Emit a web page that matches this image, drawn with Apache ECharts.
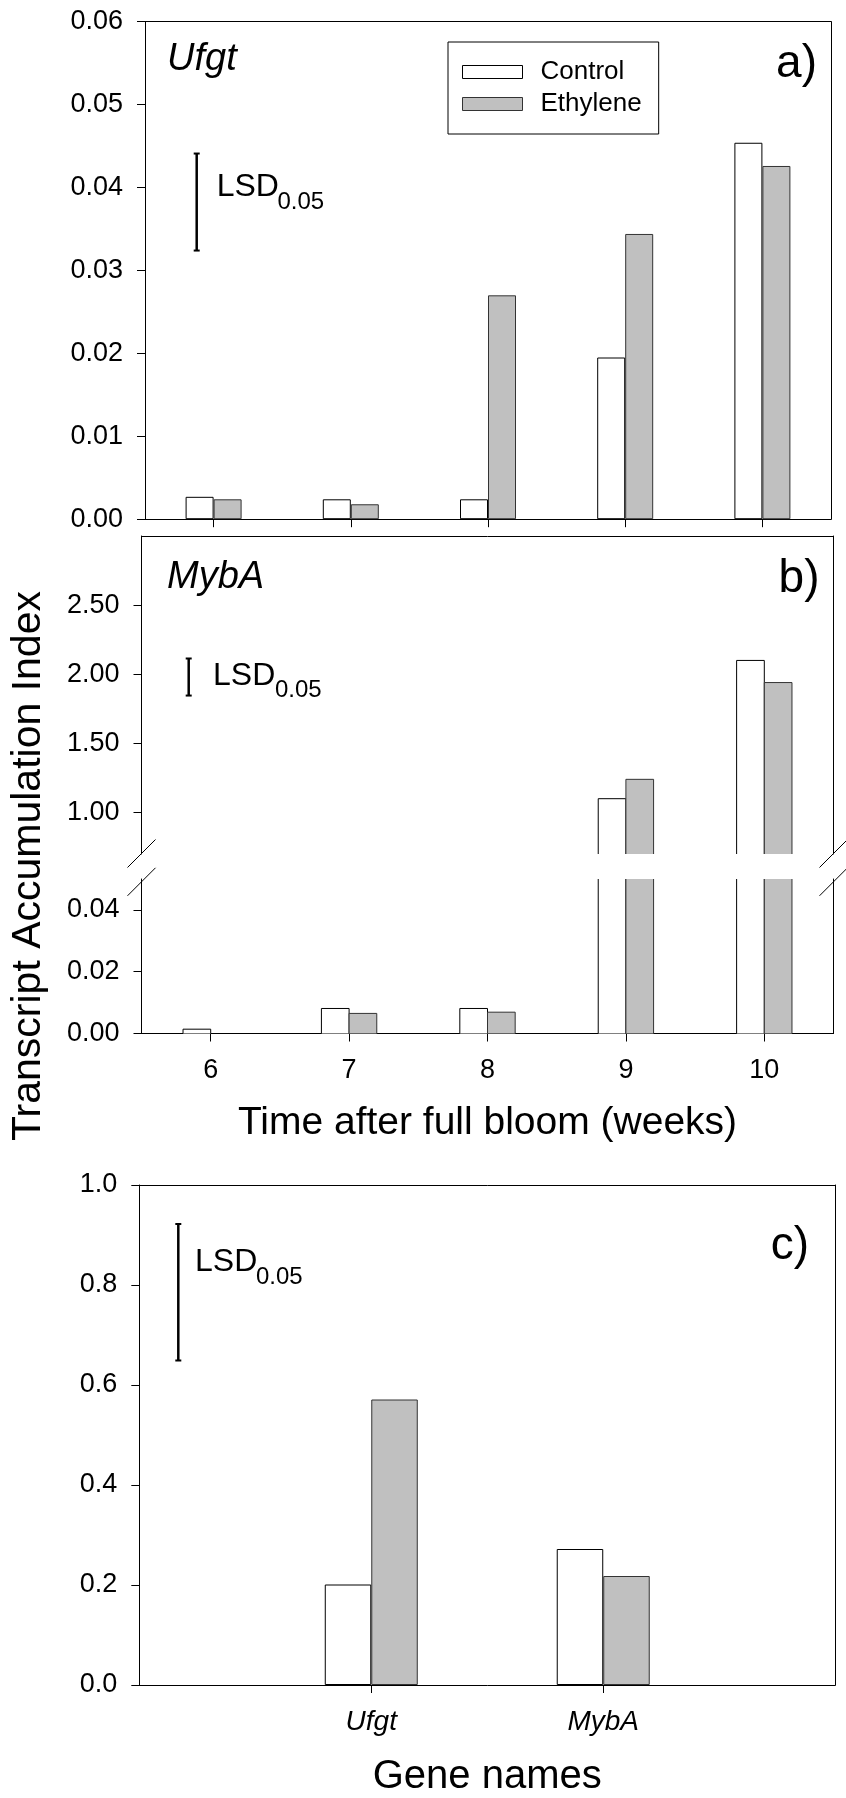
<!DOCTYPE html>
<html><head><meta charset="utf-8">
<script src="https://cdn.jsdelivr.net/npm/echarts@6.0.0/dist/echarts.min.js"></script>
<style>html,body{margin:0;padding:0;background:#fff}#c{width:846px;height:1798px}</style>
</head><body><div id="c"></div>
<script>
// ---------- data ----------
const weeks = ['6', '7', '8', '9', '10'];
const ufgtControl  = [0.0027, 0.0024, 0.0024, 0.0195, 0.0454];
const ufgtEthylene = [0.0024, 0.0018, 0.0270, 0.0344, 0.0426];
const mybaControl  = [0.0014, 0.0081, 0.0081, 1.10, 2.10];
const mybaEthylene = [0.0000, 0.0065, 0.0069, 1.24, 1.94];
const genes = ['Ufgt', 'MybA'];
const geneControl  = [0.201, 0.272];
const geneEthylene = [0.571, 0.218];
const lsdA = [0.0324, 0.0441];
const lsdB = [1.846, 2.114];
const lsdC = [0.649, 0.922];
const ticksBUpper = [1.0, 1.5, 2.0, 2.5];
const ticksBLower = [0, 0.02, 0.04];
const seriesNames = ['Control', 'Ethylene'];

// ---------- styles ----------
const FONT = "'Liberation Sans', Arial, Helvetica, sans-serif";
const CTRL = {fill: '#ffffff', stroke: '#000000'};
const ETH = {fill: '#c0c0c0', stroke: '#333333'};

const chart = echarts.init(document.getElementById('c'), null, {renderer: 'canvas'});

function lineAxis(gridIndex, position) {
  return {
    type: 'value', gridIndex, position, min: 0, max: 1,
    axisLine: {show: true, onZero: false, lineStyle: {color: '#000', width: 1}},
    axisTick: {show: false}, axisLabel: {show: false}, splitLine: {show: false}
  };
}
const yLabel = (digits) => ({
  show: true, fontSize: 27, color: '#000', fontFamily: FONT, margin: 22,
  formatter: v => Number(v).toFixed(digits)
});
const yTick = {show: true, inside: false, length: 8, lineStyle: {color: '#000', width: 1}};
const axLine = {show: true, onZero: false, lineStyle: {color: '#000', width: 1}};

// custom bar renderer for the broken-axis panel (no edge drawn where a bar is cut)
function brokenBar(side, sty) {
  return function (params, api) {
    const i = api.value(0), v = api.value(1);
    if (!(v > 0)) return;
    const cs = params.coordSys;
    const band = api.size([1, 0])[0];
    const w = band * 0.2;
    const base = api.coord([i, 0]);
    const top = api.coord([i, v])[1];
    const x0 = base[0] + (side < 0 ? -w : 0);
    const y0 = Math.max(top, cs.y), y1 = Math.min(base[1], cs.y + cs.height);
    if (y1 <= y0) return;
    const ls = {stroke: sty.stroke, lineWidth: 1};
    const children = [
      {type: 'rect', shape: {x: x0, y: y0, width: w, height: y1 - y0}, style: {fill: sty.fill}},
      {type: 'line', shape: {x1: x0, y1: y0, x2: x0, y2: y1}, style: ls},
      {type: 'line', shape: {x1: x0 + w, y1: y0, x2: x0 + w, y2: y1}, style: ls}
    ];
    if (top >= cs.y) children.push({type: 'line', shape: {x1: x0, y1: y0, x2: x0 + w, y2: y0}, style: ls});
    return {type: 'group', children};
  };
}
const pairs = arr => arr.map((v, i) => [i, v]);

const geneCats = [' ', ...genes, '  '];
const pad = arr => ['-', ...arr, '-'];

const option = {
  backgroundColor: '#fff',
  animation: false,
  textStyle: {fontFamily: FONT},
  grid: [
    {left: 145, top: 21.7, width: 686, height: 497.5},
    {left: 141.5, top: 536, width: 692, height: 318},
    {left: 141.5, top: 879, width: 692, height: 154.5},
    {left: 139.3, top: 1185, width: 698, height: 503.5}
  ],
  legend: {
    show: true, selectedMode: false, orient: 'vertical',
    left: 448, top: 42, padding: [17, 17, 17, 14], itemGap: 6,
    itemWidth: 60, itemHeight: 13, icon: 'rect',
    borderColor: '#000', borderWidth: 1, backgroundColor: '#fff',
    textStyle: {fontSize: 26, color: '#000', fontFamily: FONT, padding: [0, 0, 0, 13]},
    data: [
      {name: seriesNames[0], itemStyle: {color: CTRL.fill, borderColor: CTRL.stroke, borderWidth: 1}},
      {name: seriesNames[1], itemStyle: {color: ETH.fill, borderColor: ETH.stroke, borderWidth: 1}}
    ]
  },
  xAxis: [
    {type: 'category', gridIndex: 0, data: weeks, position: 'bottom',
     axisLine: axLine, axisTick: {show: true, alignWithLabel: true, length: 8, lineStyle: {color: '#000'}},
     axisLabel: {show: false}, splitLine: {show: false}},
    lineAxis(0, 'top'),
    {type: 'category', gridIndex: 1, data: weeks, position: 'top',
     axisLine: axLine, axisTick: {show: false}, axisLabel: {show: false}, splitLine: {show: false}},
    {type: 'category', gridIndex: 2, data: weeks, position: 'bottom',
     axisLine: axLine, axisTick: {show: true, alignWithLabel: true, length: 8, lineStyle: {color: '#000'}},
     axisLabel: {show: true, fontSize: 27, color: '#000', fontFamily: FONT, margin: 24},
     name: 'Time after full bloom (weeks)', nameLocation: 'middle', nameGap: 70,
     nameTextStyle: {fontSize: 39, color: '#000', fontFamily: FONT}},
    {type: 'category', gridIndex: 3, data: geneCats, position: 'bottom', boundaryGap: false,
     axisLine: axLine,
     axisTick: {show: true, length: 8, lineStyle: {color: '#000'}, interval: (idx) => idx >= 1 && idx <= genes.length},
     axisLabel: {show: true, interval: 0, fontSize: 28, fontStyle: 'italic', color: '#000', fontFamily: FONT, margin: 23},
     name: 'Gene names', nameLocation: 'middle', nameGap: 72,
     nameTextStyle: {fontSize: 40, color: '#000', fontFamily: FONT}},
    lineAxis(3, 'top')
  ],
  yAxis: [
    {type: 'value', gridIndex: 0, min: 0, max: 0.06, interval: 0.01, position: 'left',
     axisLine: axLine, axisTick: yTick, axisLabel: yLabel(2), splitLine: {show: false}},
    lineAxis(0, 'right'),
    {type: 'value', gridIndex: 1, min: 0.7, max: 3.0, position: 'left',
     axisLine: axLine,
     axisTick: Object.assign({}, yTick, {customValues: ticksBUpper}),
     axisLabel: Object.assign(yLabel(2), {customValues: ticksBUpper}), splitLine: {show: false}},
    lineAxis(1, 'right'),
    {type: 'value', gridIndex: 2, min: 0, max: 0.05, position: 'left',
     axisLine: axLine,
     axisTick: Object.assign({}, yTick, {customValues: ticksBLower}),
     axisLabel: Object.assign(yLabel(2), {customValues: ticksBLower}), splitLine: {show: false}},
    lineAxis(2, 'right'),
    {type: 'value', gridIndex: 3, min: 0, max: 1.0, interval: 0.2, position: 'left',
     axisLine: axLine, axisTick: yTick, axisLabel: yLabel(1), splitLine: {show: false}},
    lineAxis(3, 'right')
  ],
  series: [
    // panel a
    {type: 'bar', name: seriesNames[0], xAxisIndex: 0, yAxisIndex: 0, data: ufgtControl,
     barWidth: 28, barGap: '0%', itemStyle: {color: CTRL.fill, borderColor: CTRL.stroke, borderWidth: 1}},
    {type: 'bar', name: seriesNames[1], xAxisIndex: 0, yAxisIndex: 0, data: ufgtEthylene,
     barWidth: 28, barGap: '0%', itemStyle: {color: ETH.fill, borderColor: ETH.stroke, borderWidth: 1}},
    // panel b (upper + lower part of the broken axis)
    {type: 'custom', name: seriesNames[0], xAxisIndex: 2, yAxisIndex: 2, data: pairs(mybaControl),
     encode: {x: 0, y: 1}, renderItem: brokenBar(-1, CTRL)},
    {type: 'custom', name: seriesNames[1], xAxisIndex: 2, yAxisIndex: 2, data: pairs(mybaEthylene),
     encode: {x: 0, y: 1}, renderItem: brokenBar(1, ETH)},
    {type: 'custom', name: seriesNames[0], xAxisIndex: 3, yAxisIndex: 4, data: pairs(mybaControl),
     encode: {x: 0, y: 1}, renderItem: brokenBar(-1, CTRL)},
    {type: 'custom', name: seriesNames[1], xAxisIndex: 3, yAxisIndex: 4, data: pairs(mybaEthylene),
     encode: {x: 0, y: 1}, renderItem: brokenBar(1, ETH)},
    // panel c
    {type: 'bar', name: seriesNames[0], xAxisIndex: 4, yAxisIndex: 6, data: pad(geneControl),
     barWidth: 46.5, barGap: '0%', itemStyle: {color: CTRL.fill, borderColor: CTRL.stroke, borderWidth: 1}},
    {type: 'bar', name: seriesNames[1], xAxisIndex: 4, yAxisIndex: 6, data: pad(geneEthylene),
     barWidth: 46.5, barGap: '0%', itemStyle: {color: ETH.fill, borderColor: ETH.stroke, borderWidth: 1}}
  ]
};
chart.setOption(option);

// ---------- annotations ----------
function txt(str, x, baseline, size, opts) {
  opts = opts || {};
  const y = baseline - 0.3465 * size;
  return {
    type: 'text', x, y, silent: true, rotation: opts.rotation || 0,
    style: {
      text: str, fontSize: size, fontFamily: FONT, fontStyle: opts.italic ? 'italic' : 'normal',
      fill: '#000', align: opts.align || 'left', verticalAlign: 'middle',
      textAlign: opts.align || 'left', textVerticalAlign: 'middle'
    }
  };
}
function lsd(x, yAxisIndex, vals) {
  const yA = chart.convertToPixel({yAxisIndex}, vals[0]);
  const yB = chart.convertToPixel({yAxisIndex}, vals[1]);
  const s = {stroke: '#000', lineWidth: 2.5};
  return [
    {type: 'line', silent: true, shape: {x1: x, y1: yA, x2: x, y2: yB}, style: s},
    {type: 'line', silent: true, shape: {x1: x - 3, y1: yA, x2: x + 3, y2: yA}, style: {stroke: '#000', lineWidth: 2}},
    {type: 'line', silent: true, shape: {x1: x - 3, y1: yB, x2: x + 3, y2: yB}, style: {stroke: '#000', lineWidth: 2}}
  ];
}
function brk(x, yMid) {
  return {type: 'line', silent: true, shape: {x1: x - 14, y1: yMid + 14, x2: x + 14, y2: yMid - 14},
          style: {stroke: '#000', lineWidth: 1}};
}
const yTitle = txt('Transcript Accumulation Index', 0, 0, 41, {align: 'center', rotation: Math.PI / 2});
yTitle.x = 29; yTitle.y = 866;
const elements = [
  txt('Ufgt', 167, 73, 38, {italic: true}),
  txt('MybA', 167, 590.5, 38, {italic: true}),
  txt('a)', 817, 80.5, 46, {align: 'right'}),
  txt('b)', 819.5, 595.5, 46, {align: 'right'}),
  txt('c)', 809, 1262, 46, {align: 'right'}),
  txt('LSD', 216.7, 198, 32), txt('0.05', 277.5, 210.7, 24),
  txt('LSD', 213, 687, 32), txt('0.05', 275, 698.2, 24),
  txt('LSD', 195, 1273.3, 32), txt('0.05', 256, 1286, 24),
  yTitle,
  ...lsd(196.7, 0, lsdA),
  ...lsd(188.7, 2, lsdB),
  ...lsd(178.3, 6, lsdC),
  brk(141.5, 853.5), brk(141.5, 881.8),
  brk(833.5, 853.5), brk(833.5, 881.8)
];
chart.setOption({graphic: {elements}});
</script>
</body></html>
